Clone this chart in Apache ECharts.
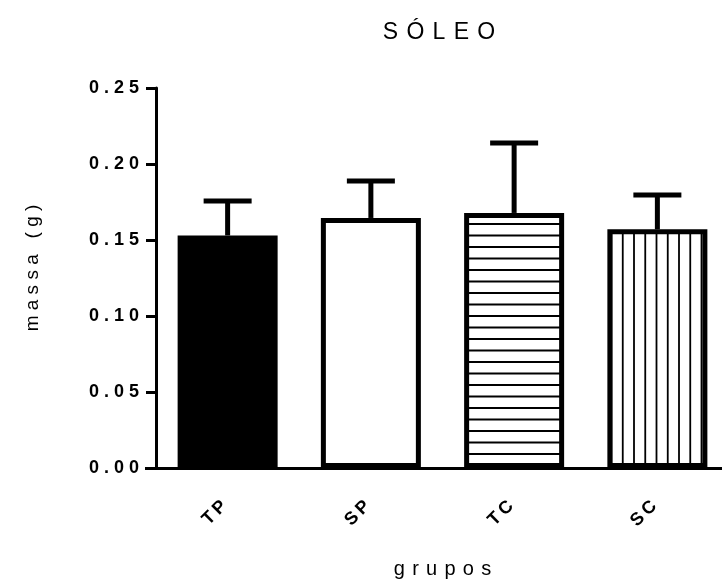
<!DOCTYPE html>
<html>
<head>
<meta charset="utf-8">
<script src="https://cdn.jsdelivr.net/npm/echarts@6/dist/echarts.min.js"></script>
<style>
  html, body { margin: 0; padding: 0; background: #fff; }
  #main { width: 722px; height: 581px; }
</style>
</head>
<body>
<div id="main"></div>
<script>
// dados (média + erro superior)
var grupos = ['TP', 'SP', 'TC', 'SC'];
var medias = [0.153, 0.1645, 0.1678, 0.157];
var topoErro = [0.1757, 0.1888, 0.2138, 0.1796];
var ticksY = [0, 0.05, 0.10, 0.15, 0.20, 0.25];

var FONTE = 'Liberation Sans, Arial, sans-serif';

// espaçamento entre letras (echarts não tem letterSpacing)
function espacar(txt, sep) {
  return String(txt).split('').join(sep);
}

// padrão de listras horizontais (TC)
function listrasH() {
  var c = document.createElement('canvas');
  c.width = 23; c.height = 23;
  var ctx = c.getContext('2d');
  ctx.fillStyle = '#fff';
  ctx.fillRect(0, 0, 23, 23);
  ctx.fillStyle = '#000';
  ctx.fillRect(0, 4.5, 23, 2);
  ctx.fillRect(0, 16, 23, 2);
  return c;
}

// padrão de listras verticais (SC)
function listrasV() {
  var c = document.createElement('canvas');
  c.width = 45; c.height = 45;
  var ctx = c.getContext('2d');
  ctx.fillStyle = '#fff';
  ctx.fillRect(0, 0, 45, 45);
  ctx.fillStyle = '#000';
  [3.1, 14.35, 25.6, 36.85].forEach(function (x) {
    ctx.fillRect(x, 0, 1.8, 45);
  });
  return c;
}

var preenchimentos = [
  '#000',
  '#fff',
  { image: listrasH(), repeat: 'repeat' },
  { image: listrasV(), repeat: 'repeat' }
];

var chart = echarts.init(document.getElementById('main'), null, { renderer: 'canvas' });

var option = {
  backgroundColor: '#fff',
  animation: false,
  title: {
    text: espacar('SÓLEO', ' \u200a'),
    left: 434,
    top: 16,
    textAlign: 'center',
    textStyle: { fontFamily: FONTE, fontSize: 23, fontWeight: 'normal', color: '#000' }
  },
  grid: { left: 156, right: -7, top: 88, bottom: 113, containLabel: false, outerBoundsMode: 'none' },
  xAxis: {
    type: 'category',
    data: grupos,
    name: espacar('grupos', ' \u200a'),
    nameLocation: 'middle',
    nameGap: 91,
    nameTextStyle: { fontFamily: FONTE, fontSize: 20, color: '#000' },
    axisLine: { lineStyle: { color: '#000', width: 3 } },
    axisTick: { alignWithLabel: true, length: 10, lineStyle: { color: '#000', width: 3 } },
    axisLabel: {
      interval: 0,
      rotate: 45,
      margin: 32,
      fontFamily: FONTE,
      fontSize: 18,
      fontWeight: 'bold',
      color: '#000',
      formatter: function (v) { return espacar(v, '\u2009') + ' '; }
    }
  },
  yAxis: {
    type: 'value',
    min: 0,
    max: 0.25,
    interval: 0.05,
    name: espacar('massa (g)', ' '),
    nameLocation: 'middle',
    nameGap: 114,
    nameTextStyle: { fontFamily: FONTE, fontSize: 19, color: '#000', padding: [0, 0, 0, 20] },
    axisLine: { show: true, lineStyle: { color: '#000', width: 3 } },
    axisTick: { show: true, length: 10, lineStyle: { color: '#000', width: 3 } },
    splitLine: { show: false },
    axisLabel: {
      margin: 17,
      fontFamily: FONTE,
      fontSize: 18,
      fontWeight: 'bold',
      color: '#000',
      formatter: function (v) { return espacar(v.toFixed(2), ' '); }
    }
  },
  graphic: [
    // prolongamento do eixo x à esquerda do eixo y
    { type: 'line', shape: { x1: 145, y1: 468.5, x2: 158, y2: 468.5 }, style: { stroke: '#000', lineWidth: 3 }, z: 10 }
  ],
  series: [
    {
      type: 'bar',
      barWidth: 100,
      data: medias.map(function (v, i) {
        return {
          value: v,
          itemStyle: { color: preenchimentos[i], borderColor: '#000', borderWidth: 5 }
        };
      }),
      z: 2
    },
    {
      type: 'custom',
      z: 3,
      data: grupos.map(function (g, i) { return [i, medias[i], topoErro[i]]; }),
      renderItem: function (params, api) {
        var base = api.coord([api.value(0), api.value(1)]);
        var topo = api.coord([api.value(0), api.value(2)]);
        var meia = 24;
        var estilo = { stroke: '#000', lineWidth: 5 };
        return {
          type: 'group',
          children: [
            { type: 'line', shape: { x1: base[0], y1: base[1], x2: topo[0], y2: topo[1] }, style: estilo },
            { type: 'line', shape: { x1: topo[0] - meia, y1: topo[1], x2: topo[0] + meia, y2: topo[1] }, style: estilo }
          ]
        };
      }
    }
  ]
};

chart.setOption(option);
</script>
</body>
</html>
